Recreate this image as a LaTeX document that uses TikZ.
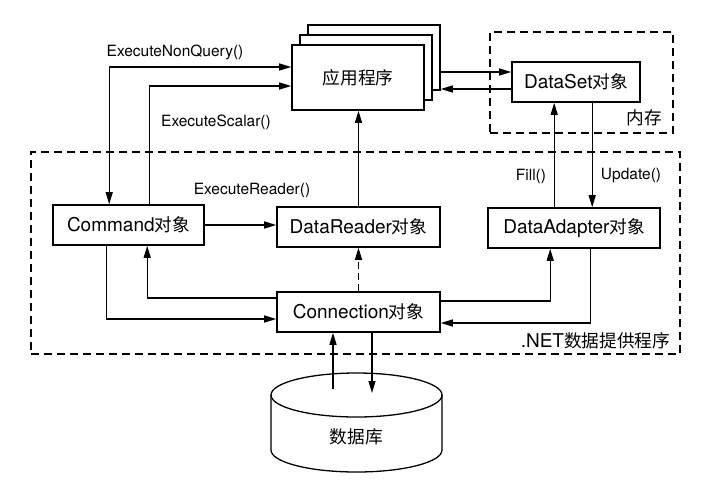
\documentclass[tikz,border=0pt]{standalone}
\usepackage{fontspec}
\setmainfont{TeX Gyre Heros}
\newfontfamily\cjk{Noto Sans CJK SC}[Scale=0.93]
\usepackage{tikz}
\usetikzlibrary{arrows.meta, positioning}

\begin{document}
\begin{tikzpicture}[
    x=1pt, y=-1pt,
    >={Triangle[length=12pt, width=7pt]},
    objbox/.style={rectangle, draw, line width=1.6pt, fill=white, minimum height=40pt, inner sep=0pt, font=\fontsize{19}{22}\selectfont},
    groupbox/.style={rectangle, draw, line width=1.2pt, dash pattern=on 8pt off 5pt, inner sep=0pt},
    arr/.style={line width=1.3pt, ->},
    lbl/.style={font=\fontsize{15.5}{18}\selectfont}
]
\useasboundingbox (0,0) rectangle (728,499);

% Group frames - memory and .NET provider
\node[groupbox, minimum width=183pt, minimum height=101pt] (mem) at (581.5,82.5) {};
\node[anchor=south east, font=\fontsize{19}{22}\selectfont] (memlabel) at ([xshift=-8pt,yshift=4pt]mem.south east) {\cjk 内存};
\node[groupbox, minimum width=649pt, minimum height=202pt] (net) at (355.5,253) {};
\node[anchor=south east, font=\fontsize{19}{22}\selectfont] (netlabel) at ([xshift=-7pt,yshift=2pt]net.south east) {.NET{\cjk 数据提供程序}};

% Application - stacked copies behind
\node[objbox, minimum width=132pt, minimum height=65pt] (app3) at (374,57.5) {};
\node[objbox, minimum width=132pt, minimum height=65pt] (app2) at (366,67.5) {};
\node[objbox, minimum width=132pt, minimum height=65pt] (app) at (358,77.5) {\cjk 应用程序};

% Objects
\node[objbox, minimum width=128pt] (dataset) at (576,82) {DataSet{\cjk 对象}};
\node[objbox, minimum width=151pt] (command) at (128.5,225) {Command{\cjk 对象}};
\node[objbox, minimum width=163pt] (reader) at (358.5,227) {DataReader{\cjk 对象}};
\node[objbox, minimum width=172pt] (adapter) at (574,228) {DataAdapter{\cjk 对象}};
\node[objbox, minimum width=163pt] (conn) at (358.5,312) {Connection{\cjk 对象}};

% Database cylinder
\draw[line width=1.3pt] (271,395) -- (271,450) arc[start angle=180, end angle=0, x radius=85.5, y radius=22] -- (442,395);
\draw[line width=1.3pt] (356.5,395) ellipse[x radius=85.5, y radius=22];
\node[font=\fontsize{19}{22}\selectfont] (db) at (356.5,437) {\cjk 数据库};
\coordinate (dbin) at (333,389);
\coordinate (dbout) at (372,393);

% App <-> DataSet
\draw[arr] ([yshift=-14.5pt]app3.east) -- ([yshift=10pt]dataset.west);
\draw[arr] ([yshift=-7pt]dataset.west) -- ([yshift=-31.5pt]app3.east);

% Command calls
\draw[arr, <->] ([xshift=57pt]command.north west) |- ([yshift=10.5pt]app.west);
\node[lbl] (nqlabel) at (175,52) {ExecuteNonQuery()};
\draw[arr] ([xshift=97pt]command.north west) |- ([yshift=-8.5pt]app.west);
\node[lbl] (sclabel) at (216,122) {ExecuteScalar()};
\draw[arr] (command.east) -- (command.east -| reader.west);
\node[lbl] (rdlabel) at (252,190) {ExecuteReader()};
\draw[arr] (reader.north) -- (reader.north |- app.south);

% Connection links
\draw[arr, dash pattern=on 7pt off 4pt] (conn.north) -- (reader.south);
\draw[arr] ([yshift=14pt]conn.west) -| ([xshift=95pt]command.south west);
\draw[arr] ([xshift=54pt]command.south west) |- ([yshift=-7pt]conn.west);
\draw[arr] ([yshift=11pt]conn.east) -| ([xshift=63pt]adapter.south west);
\draw[arr] ([xshift=103pt]adapter.south west) |- ([yshift=-11pt]conn.east);

% Fill / Update
\draw[arr] ([xshift=67pt]adapter.north west) -- ([xshift=43pt]dataset.south west);
\node[lbl] (filllabel) at (531,176) {Fill()};
\draw[arr] ([xshift=81pt]dataset.south west) -- ([xshift=105pt]adapter.north west);
\node[lbl] (updlabel) at (631,176) {Update()};

% Database <-> Connection
\draw[arr] (dbin) -- (dbin |- conn.south);
\draw[arr] (conn.south -| dbout) -- (dbout);

\end{tikzpicture}
\end{document}
